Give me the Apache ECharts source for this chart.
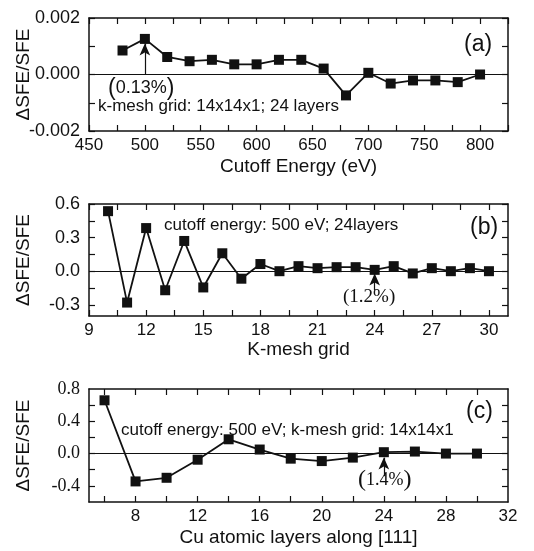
<!DOCTYPE html>
<html>
<head>
<meta charset="utf-8">
<script src="https://cdn.jsdelivr.net/npm/echarts@6/dist/echarts.min.js"></script>
<style>
html, body { margin: 0; padding: 0; background: #fff; }
#chart { width: 534px; height: 551px; }
</style>
</head>
<body>
<div id="chart"></div>
<script>
// (a) cutoff energy convergence
var energyX = [480, 500, 520, 540, 560, 580, 600, 620, 640, 660, 680, 700, 720, 740, 760, 780, 800];
var energyY = [0.00085, 0.00126, 0.00062, 0.00047, 0.00052, 0.00036, 0.00036, 0.00052, 0.00052, 0.00021, -0.00074, 0.00006, -0.00032, -0.00021, -0.00021, -0.00027, 0.0];

// (b) k-mesh convergence
var kmeshX = [10, 11, 12, 13, 14, 15, 16, 17, 18, 19, 20, 21, 22, 23, 24, 25, 26, 27, 28, 29, 30];
var kmeshY = [0.536, -0.28, 0.385, -0.17, 0.27, -0.145, 0.16, -0.067, 0.064, 0.0, 0.045, 0.027, 0.036, 0.036, 0.012, 0.045, -0.02, 0.027, 0.0, 0.027, 0.0];

// (c) number of layers
var layersX = [6, 8, 10, 12, 14, 16, 18, 20, 22, 24, 26, 28, 30];
var layersY = [0.66, -0.345, -0.30, -0.076, 0.177, 0.05, -0.063, -0.093, -0.05, 0.017, 0.025, 0.0, 0.0];

// tick / label positions
var aXTicks = [450, 475, 500, 525, 550, 575, 600, 625, 650, 675, 700, 725, 750, 775, 800, 825];
var aXLabels = [450, 500, 550, 600, 650, 700, 750, 800];
var aYTicks = [-0.002, -0.001, 0, 0.001, 0.002];
var aYLabels = [-0.002, 0, 0.002];
var bXTicks = [9, 10.5, 12, 13.5, 15, 16.5, 18, 19.5, 21, 22.5, 24, 25.5, 27, 28.5, 30];
var bXLabels = [9, 12, 15, 18, 21, 24, 27, 30];
var bYTicks = [-0.3, -0.15, 0, 0.15, 0.3, 0.45, 0.6];
var bYLabels = [-0.3, 0, 0.3, 0.6];
var cXTicks = [6, 8, 10, 12, 14, 16, 18, 20, 22, 24, 26, 28, 30];
var cXLabels = [8, 12, 16, 20, 24, 28, 32];
var cYTicks = [-0.4, -0.2, 0, 0.2, 0.4, 0.6];
var cYLabels = [-0.4, 0, 0.4, 0.8];

var sans = 'Liberation Sans';
var serif = 'Liberation Serif';

function pair(a, b) {
    var out = [];
    for (var i = 0; i < a.length; i++) out.push([a[i], b[i]]);
    return out;
}

function xAxes(gi, min, max, ticks, labels, name, gap) {
    return [
        {
            type : 'value', gridIndex : gi, position : 'bottom', min : min, max : max,
            name : name, nameLocation : 'middle', nameGap : gap, nameMoveOverlap : false,
            nameTextStyle : { fontFamily : sans, fontSize : 19, color : '#111' },
            axisLine : { show : true, onZero : false, lineStyle : { color : '#111', width : 1.5 } },
            axisTick : { show : true, inside : true, length : 6, customValues : ticks, lineStyle : { color : '#111', width : 1.2 } },
            axisLabel : { show : true, customValues : labels, margin : 6, fontFamily : sans, fontSize : 17, color : '#111' },
            splitLine : { show : false }
        },
        {
            type : 'value', gridIndex : gi, position : 'top', min : min, max : max,
            axisLine : { show : true, onZero : false, lineStyle : { color : '#111', width : 1.5 } },
            axisTick : { show : true, inside : true, length : 6, customValues : ticks, lineStyle : { color : '#111', width : 1.2 } },
            axisLabel : { show : false },
            splitLine : { show : false }
        }
    ];
}

function yAxes(gi, min, max, ticks, labels, digits, font) {
    return [
        {
            type : 'value', gridIndex : gi, position : 'left', min : min, max : max,
            name : 'ΔSFE/SFE', nameLocation : 'middle', nameGap : 56, nameRotate : 90, nameMoveOverlap : false,
            nameTextStyle : { fontFamily : sans, fontSize : 19, color : '#111' },
            axisLine : { show : true, onZero : false, lineStyle : { color : '#111', width : 1.5 } },
            axisTick : { show : true, inside : true, length : 6, customValues : ticks, lineStyle : { color : '#111', width : 1.2 } },
            axisLabel : {
                show : true, customValues : labels, margin : 9, fontFamily : font, fontSize : 18, color : '#111',
                formatter : function (v) { return (Math.abs(v) < 1e-9 ? 0 : v).toFixed(digits); }
            },
            splitLine : { show : false }
        },
        {
            type : 'value', gridIndex : gi, position : 'right', min : min, max : max,
            axisLine : { show : true, onZero : false, lineStyle : { color : '#111', width : 1.5 } },
            axisTick : { show : true, inside : true, length : 6, customValues : ticks, lineStyle : { color : '#111', width : 1.2 } },
            axisLabel : { show : false },
            splitLine : { show : false }
        }
    ];
}

function arrow(x, y0, y1) {
    return [
        { coord : [x, y0], symbol : 'none' },
        { coord : [x, y1], symbol : 'arrow', symbolSize : [8, 12] }
    ];
}

function series(xi, yi, data, arr) {
    return {
        type : 'line', xAxisIndex : xi, yAxisIndex : yi, data : data,
        symbol : 'rect', symbolSize : 10, showSymbol : true,
        lineStyle : { color : '#111', width : 1.8 },
        itemStyle : { color : '#111' },
        animation : false, z : 3,
        markLine : {
            silent : true, animation : false, symbol : ['none', 'none'],
            label : { show : false },
            lineStyle : { color : '#111', width : 1.2, type : 'solid' },
            data : [ { yAxis : 0 }, arr ]
        }
    };
}

var myChart = echarts.init(document.getElementById('chart'));
var option =
{
    animation : false,
    backgroundColor : '#fff',
    grid : [
        { left : 89, width : 419, top : 18, height : 113, outerBoundsMode : 'none', containLabel : false },
        { left : 89, width : 419, top : 204, height : 112, outerBoundsMode : 'none', containLabel : false },
        { left : 89, width : 419, top : 389, height : 113, outerBoundsMode : 'none', containLabel : false }
    ],
    xAxis : [].concat(
        xAxes(0, 450, 825, aXTicks, aXLabels, 'Cutoff Energy (eV)', 26),
        xAxes(1, 9, 31, bXTicks, bXLabels, 'K-mesh grid', 24),
        xAxes(2, 5, 32, cXTicks, cXLabels, 'Cu atomic layers along [111]', 26)
    ),
    yAxis : [].concat(
        yAxes(0, -0.002, 0.002, aYTicks, aYLabels, 3, sans),
        yAxes(1, -0.4, 0.6, bYTicks, bYLabels, 1, sans),
        yAxes(2, -0.6, 0.8, cYTicks, cYLabels, 1, serif)
    ),
    series : [
        series(0, 0, pair(energyX, energyY), arrow(500, 0, 0.0011)),
        series(2, 2, pair(kmeshX, kmeshY), arrow(24, -0.17, -0.02)),
        series(4, 4, pair(layersX, layersY), arrow(24, -0.28, -0.05))
    ],
    graphic : [
        { type : 'text', left : 98, top : 98, style : { text : 'k-mesh grid: 14x14x1; 24 layers', font : '17px "Liberation Sans"', fill : '#111' } },
        { type : 'text', left : 108, top : 77, style : {
            text : '{p|(}{t|0.13%}{p|)}', fill : '#111',
            rich : { p : { font : '23px "Liberation Sans"', fill : '#111' }, t : { font : '18px "Liberation Sans"', fill : '#111' } }
        } },
        { type : 'text', left : 464, top : 33, style : { text : '(a)', font : '23px "Liberation Sans"', fill : '#111' } },

        { type : 'text', left : 164, top : 217, style : { text : 'cutoff energy: 500 eV; 24layers', font : '17px "Liberation Sans"', fill : '#111' } },
        { type : 'text', left : 343, top : 288, style : { text : '(1.2%)', font : '19px "Liberation Serif"', fill : '#111' } },
        { type : 'text', left : 470, top : 216, style : { text : '(b)', font : '23px "Liberation Sans"', fill : '#111' } },

        { type : 'text', left : 121, top : 422, style : { text : 'cutoff energy: 500 eV; k-mesh grid: 14x14x1', font : '17px "Liberation Sans"', fill : '#111' } },
        { type : 'text', left : 358, top : 468, style : {
            text : '{p|(}{t|1.4%}{p|)}', fill : '#111',
            rich : { p : { font : '24px "Liberation Serif"', fill : '#111' }, t : { font : '18px "Liberation Serif"', fill : '#111' } }
        } },
        { type : 'text', left : 466, top : 400, style : { text : '(c)', font : '23px "Liberation Sans"', fill : '#111' } }
    ]
};

myChart.setOption(option);
</script>
</body>
</html>
